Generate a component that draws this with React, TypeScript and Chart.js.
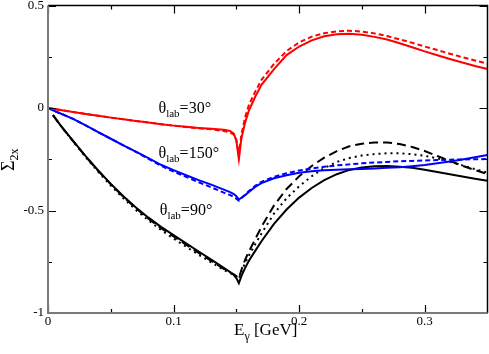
import React, { useEffect, useRef } from "react";
import { Chart, registerables } from "chart.js";

Chart.register(...registerables);

// Photon energy grid [GeV]
const xs = [
  0, 0.004, 0.01, 0.02, 0.03, 0.04, 0.05, 0.06, 0.07, 0.08, 0.09, 0.1, 0.11, 0.12, 0.13, 0.14,
  0.145, 0.148, 0.15, 0.152, 0.154, 0.157, 0.16, 0.165,
  0.17, 0.18, 0.19, 0.2, 0.21, 0.22, 0.23, 0.24, 0.25, 0.26, 0.27, 0.28, 0.29, 0.3, 0.31, 0.32, 0.33, 0.34, 0.35,
];

// theta_lab = 30 deg (red)
const red30Solid = [
  0, -0.004, -0.01, -0.02, -0.029, -0.038, -0.047, -0.055, -0.063, -0.071, -0.079, -0.086, -0.092, -0.097, -0.101, -0.106,
  -0.112, -0.125, -0.16, -0.25, -0.15, -0.07, -0.012, 0.055,
  0.113, 0.19, 0.258, 0.3, 0.33, 0.35, 0.36, 0.362, 0.357, 0.347, 0.334, 0.316, 0.296, 0.276, 0.257, 0.239, 0.222, 0.205, 0.19,
];
const red30Dashed = [
  0, -0.004, -0.01, -0.02, -0.029, -0.038, -0.047, -0.055, -0.063, -0.071, -0.079, -0.086, -0.093, -0.099, -0.104, -0.112,
  -0.12, -0.13, -0.155, -0.23, -0.13, -0.045, 0.015, 0.08,
  0.137, 0.215, 0.278, 0.32, 0.348, 0.365, 0.374, 0.377, 0.373, 0.364, 0.351, 0.335, 0.318, 0.3, 0.283, 0.265, 0.248, 0.232, 0.216,
];

// theta_lab = 150 deg (blue)
const blue150Solid = [
  0, -0.012, -0.027, -0.053, -0.085, -0.118, -0.15, -0.182, -0.213, -0.245, -0.277, -0.303, -0.328, -0.352, -0.374, -0.398,
  -0.41, -0.42, -0.43, -0.447, -0.438, -0.425, -0.41, -0.385,
  -0.366, -0.343, -0.328, -0.316, -0.308, -0.304, -0.301, -0.299, -0.297, -0.295, -0.292, -0.289, -0.284, -0.278, -0.27, -0.261, -0.251, -0.24, -0.229,
];
const blue150Dashed = [
  0, -0.012, -0.027, -0.053, -0.085, -0.118, -0.15, -0.182, -0.214, -0.248, -0.282, -0.31, -0.336, -0.362, -0.387, -0.413,
  -0.425, -0.434, -0.442, -0.452, -0.44, -0.423, -0.405, -0.38,
  -0.36, -0.336, -0.318, -0.305, -0.295, -0.287, -0.28, -0.275, -0.27, -0.266, -0.263, -0.26, -0.258, -0.256, -0.254, -0.252, -0.251, -0.25, -0.249,
];

// theta_lab = 90 deg (black)
const black90Solid = [
  null, -0.035, -0.085, -0.16, -0.235, -0.305, -0.37, -0.43, -0.485, -0.535, -0.58, -0.62, -0.66, -0.7, -0.74, -0.78,
  -0.8, -0.815, -0.83, -0.855, -0.82, -0.78, -0.745, -0.697,
  -0.65, -0.565, -0.495, -0.437, -0.39, -0.352, -0.323, -0.302, -0.29, -0.284, -0.283, -0.286, -0.292, -0.301, -0.312, -0.323, -0.334, -0.345, -0.355,
];
const black90Dashed = [
  null, -0.035, -0.086, -0.162, -0.237, -0.307, -0.372, -0.433, -0.489, -0.54, -0.586, -0.627, -0.667, -0.707, -0.746, -0.785,
  -0.802, -0.812, -0.82, -0.83, -0.79, -0.74, -0.7, -0.64,
  -0.58, -0.475, -0.395, -0.333, -0.283, -0.242, -0.21, -0.187, -0.174, -0.168, -0.168, -0.176, -0.19, -0.21, -0.234, -0.258, -0.282, -0.303, -0.322,
];
const black90Dotted = [
  null, -0.035, -0.086, -0.163, -0.24, -0.312, -0.378, -0.44, -0.497, -0.548, -0.595, -0.637, -0.677, -0.716, -0.753, -0.79,
  -0.805, -0.815, -0.822, -0.835, -0.8, -0.755, -0.72, -0.665,
  -0.612, -0.515, -0.44, -0.382, -0.333, -0.293, -0.263, -0.244, -0.232, -0.225, -0.221, -0.221, -0.225, -0.233, -0.246, -0.262, -0.28, -0.298, -0.315,
];

const xMajorTicks = [0, 0.1, 0.2, 0.3];
const xMinorTicks = [0.05, 0.15, 0.25];
const yMajorTicks = [-1, -0.5, 0, 0.5];
const yMinorTicks = [-0.75, -0.25, 0.25];

const curveLabels = [
  { angle: "30°", x: 0.088, y: -0.022 },
  { angle: "150°", x: 0.088, y: -0.242 },
  { angle: "90°", x: 0.089, y: -0.52 },
];

const FONT = '"Liberation Serif", "Times New Roman", serif';

const toPoints = (arr: (number | null)[]) => xs.map((x, i) => ({ x, y: arr[i] }));

const framePlugin = {
  id: "xmgraceFrame",
  afterDatasetsDraw(chart: any) {
    const { ctx, chartArea: a, scales } = chart;
    const sx = scales.x;
    const sy = scales.y;
    ctx.save();

    // inward ticks on all four sides
    ctx.strokeStyle = "#000";
    ctx.lineWidth = 1.2;
    const tickX = (v: number, len: number) => {
      const p = Math.round(sx.getPixelForValue(v)) + 0.5;
      ctx.beginPath();
      ctx.moveTo(p, a.bottom);
      ctx.lineTo(p, a.bottom - len);
      ctx.moveTo(p, a.top);
      ctx.lineTo(p, a.top + len);
      ctx.stroke();
    };
    const tickY = (v: number, len: number) => {
      const p = Math.round(sy.getPixelForValue(v)) + 0.5;
      ctx.beginPath();
      ctx.moveTo(a.left, p);
      ctx.lineTo(a.left + len, p);
      ctx.moveTo(a.right, p);
      ctx.lineTo(a.right - len, p);
      ctx.stroke();
    };
    xMajorTicks.forEach((v) => tickX(v, 8));
    xMinorTicks.forEach((v) => tickX(v, 4));
    yMajorTicks.forEach((v) => tickY(v, 8));
    yMinorTicks.forEach((v) => tickY(v, 4));

    // frame
    ctx.lineWidth = 1.5;
    ctx.strokeStyle = "#000";
    ctx.beginPath();
    ctx.moveTo(a.left, a.top);
    ctx.lineTo(a.right, a.top);
    ctx.lineTo(a.right, a.bottom);
    ctx.stroke();
    ctx.lineWidth = 2;
    ctx.strokeStyle = "#7a7a7a";
    ctx.beginPath();
    ctx.moveTo(a.left, a.top);
    ctx.lineTo(a.left, a.bottom);
    ctx.lineTo(a.right, a.bottom);
    ctx.stroke();

    // curve labels
    ctx.fillStyle = "#000";
    ctx.textBaseline = "alphabetic";
    ctx.textAlign = "left";
    curveLabels.forEach((l) => {
      let px = sx.getPixelForValue(l.x);
      const py = sy.getPixelForValue(l.y);
      ctx.font = `16px ${FONT}`;
      ctx.fillText("θ", px, py);
      px += ctx.measureText("θ").width;
      ctx.font = `11px ${FONT}`;
      ctx.fillText("lab", px, py + 4);
      px += ctx.measureText("lab").width;
      ctx.font = `16px ${FONT}`;
      ctx.fillText("=" + l.angle, px, py);
    });

    // x title: E_gamma [GeV]
    {
      let px = 234;
      const py = 335;
      ctx.font = `17px ${FONT}`;
      ctx.fillText("E", px, py);
      px += ctx.measureText("E").width;
      ctx.font = `12px ${FONT}`;
      ctx.fillText("γ", px, py + 5);
      px += ctx.measureText("γ").width;
      ctx.font = `17px ${FONT}`;
      ctx.fillText(" [GeV]", px, py);
    }

    // y title: Sigma_2x (rotated)
    {
      ctx.translate(14, 171);
      ctx.rotate(-Math.PI / 2);
      ctx.font = `18px ${FONT}`;
      ctx.fillText("Σ", 0, 0);
      const w = ctx.measureText("Σ").width;
      ctx.font = `12px ${FONT}`;
      ctx.fillText("2x", w, 4);
    }

    ctx.restore();
  },
};

export default function App() {
  const canvasRef = useRef<HTMLCanvasElement | null>(null);

  useEffect(() => {
    const canvas = canvasRef.current;
    if (!canvas) return;
    const line = (data: (number | null)[], color: string, dash: number[] = []) => ({
      data: toPoints(data),
      borderColor: color,
      backgroundColor: color,
      borderWidth: 2,
      borderDash: dash,
      pointRadius: 0,
      tension: 0,
      fill: false,
      spanGaps: false,
    });
    const chart = new Chart(canvas, {
      type: "line",
      data: {
        datasets: [
          line(red30Solid, "#ff0000"),
          line(red30Dashed, "#ff0000", [5, 3]),
          line(blue150Solid, "#0000ff"),
          line(blue150Dashed, "#0000ff", [5, 3]),
          line(black90Solid, "#000000"),
          line(black90Dashed, "#000000", [9, 5]),
          line(black90Dotted, "#000000", [2, 4]),
        ] as any,
      },
      options: {
        animation: false,
        responsive: false,
        maintainAspectRatio: false,
        layout: { padding: { top: 5.5, right: 1.5, left: 0, bottom: 0 } },
        plugins: { legend: { display: false }, tooltip: { enabled: false } },
        scales: {
          x: {
            type: "linear",
            min: 0,
            max: 0.35,
            grid: { display: false, drawTicks: false },
            border: { display: false },
            ticks: {
              color: "#000",
              font: { family: FONT, size: 13, lineHeight: 1 },
              padding: 2,
              maxRotation: 0,
              autoSkip: false,
              callback: (v: any) => String(v),
            },
            afterBuildTicks: (s: any) => {
              s.ticks = xMajorTicks.map((v) => ({ value: v }));
            },
            afterFit: (s: any) => {
              s.height = 41;
              s.paddingLeft = 0;
              s.paddingRight = 0;
            },
          },
          y: {
            type: "linear",
            min: -1,
            max: 0.5,
            grid: { display: false, drawTicks: false },
            border: { display: false },
            ticks: {
              color: "#000",
              font: { family: FONT, size: 13, lineHeight: 1 },
              padding: 4,
              autoSkip: false,
              callback: (v: any) => String(v),
            },
            afterBuildTicks: (s: any) => {
              s.ticks = yMajorTicks.map((v) => ({ value: v }));
            },
            afterFit: (s: any) => {
              s.width = 48;
              s.paddingTop = 0;
              s.paddingBottom = 0;
            },
          },
        },
      } as any,
      plugins: [framePlugin],
    });
    return () => chart.destroy();
  }, []);

  return (
    <div style={{ position: "fixed", left: 0, top: 0, width: 489, height: 354, background: "#fff" }}>
      <canvas ref={canvasRef} width={489} height={354} style={{ display: "block" }} />
    </div>
  );
}
